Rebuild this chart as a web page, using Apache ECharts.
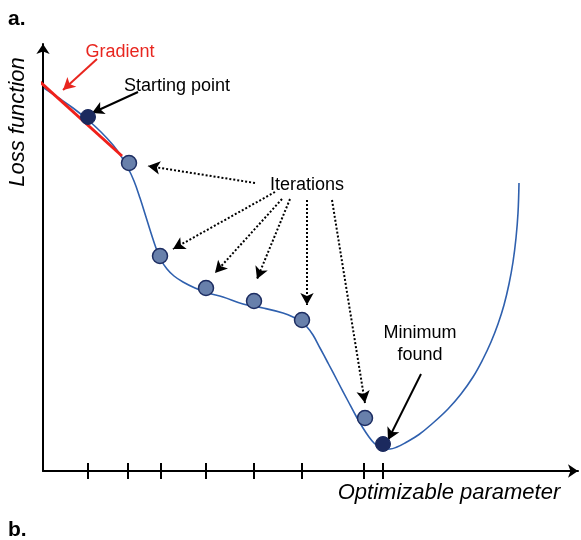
<!DOCTYPE html>
<html>
<head>
<meta charset="utf-8">
<script src="https://cdn.jsdelivr.net/npm/echarts@6/dist/echarts.min.js"></script>
<style>
html,body{margin:0;padding:0;background:#fff;}
#chart{width:581px;height:540px;}
</style>
</head>
<body>
<div id="chart"></div>
<script>
// Loss curve samples [parameter, loss]
var curveX = [1, 15, 30, 45, 58, 70, 78, 85, 91, 97, 103, 108, 113, 118, 124, 131, 140, 152, 165, 180, 200, 220, 240, 250, 258, 264, 270, 277, 285, 295, 305, 313, 320, 326, 331, 336, 341, 347, 354, 362, 376, 390, 405, 418, 430, 440, 448, 455, 461, 466, 470, 473, 475, 476];
var curveY = [383, 373.5, 363, 351, 339, 326, 315, 303, 290, 273, 254, 238, 223, 211, 202, 195, 189, 183, 178, 174, 167, 163, 158, 154, 149, 144, 136, 123, 108, 89, 70, 55, 43, 34, 28, 24, 22, 22, 24, 28, 36.5, 48, 62, 77, 94, 112, 129, 147, 166, 187, 209, 233, 258, 288];
// Iteration points
var iterX = [86, 117, 163, 211, 259, 322];
var iterY = [308, 215, 183, 170, 151, 53];
var startPt = [45, 354];
var minPt = [340, 27];
// Tick positions on the parameter axis
var tickX = [45, 85, 118, 163, 211, 259, 321, 340];
// Gradient tangent segment
var gradX = [-5, 79];
var gradY = [391, 315];
// Annotation texts [x, y, text, color]
var notes = [
  [77, 419, 'Gradient', '#e8261f'],
  [134, 385, 'Starting point', '#000'],
  [264, 286, 'Iterations', '#000'],
  [377, 127, 'Minimum\nfound', '#000']
];
// Solid arrows [x1,y1,x2,y2,color]
var solidArrows = [
  [54, 412, 20, 381, '#e8261f'],
  [95, 379, 49, 358, '#000'],
  [378, 97, 345, 31, '#000']
];
// Dotted arrows from "Iterations"
var dotArrows = [
  [212, 288, 105, 305],
  [232, 279, 130, 222],
  [239, 272, 172, 198],
  [247, 272, 214, 192],
  [264, 271, 264, 166],
  [289, 271, 322, 68]
];

var chart = echarts.init(document.getElementById('chart'));
var axisLine = {show: true, symbol: ['none', 'arrow'], symbolSize: [10, 10], lineStyle: {color: '#000', width: 2}};

var markData = [];
solidArrows.forEach(function (a) {
  markData.push([{coord: [a[0], a[1]], lineStyle: {color: a[4], width: 2, type: 'solid'}}, {coord: [a[2], a[3]]}]);
});
dotArrows.forEach(function (a) {
  markData.push([{coord: [a[0], a[1]], lineStyle: {color: '#000', width: 2, type: 'dotted'}}, {coord: [a[2], a[3]]}]);
});

var option = {
  animation: false,
  grid: {left: 43, right: 3, top: 44, bottom: 69},
  xAxis: {type: 'value', min: 0, max: 535, axisLine: axisLine, axisTick: {show: false}, axisLabel: {show: false}, splitLine: {show: false}},
  yAxis: {type: 'value', min: 0, max: 427, axisLine: axisLine, axisTick: {show: false}, axisLabel: {show: false}, splitLine: {show: false}},
  graphic: [
    {type: 'text', x: 8, y: 19, style: {text: 'a.', font: 'bold 21px "Liberation Sans", sans-serif', fill: '#000', verticalAlign: 'middle'}},
    {type: 'text', x: 8, y: 530, style: {text: 'b.', font: 'bold 21px "Liberation Sans", sans-serif', fill: '#000', verticalAlign: 'middle'}},
    {type: 'text', x: 18, y: 122, rotation: Math.PI / 2, style: {text: 'Loss function', font: 'italic 22px "Liberation Sans", sans-serif', fill: '#000', align: 'center', verticalAlign: 'middle'}},
    {type: 'text', x: 449, y: 493, style: {text: 'Optimizable parameter', font: 'italic 22px "Liberation Sans", sans-serif', fill: '#000', align: 'center', verticalAlign: 'middle'}}
  ],
  series: [
    {
      type: 'line', name: 'loss', smooth: 0.4, symbol: 'none',
      data: curveX.map(function (x, i) { return [x, curveY[i]]; }),
      lineStyle: {color: '#2f60ae', width: 1.6}, z: 2
    },
    {
      type: 'line', name: 'gradient', symbol: 'none', clip: false,
      data: gradX.map(function (x, i) { return [x, gradY[i]]; }),
      lineStyle: {color: '#f0201a', width: 3}, z: 3
    },
    {
      type: 'scatter', name: 'ticks', clip: false, symbol: 'rect', symbolSize: [2, 16],
      data: tickX.map(function (x) { return [x, 0]; }),
      itemStyle: {color: '#000', opacity: 1}, z: 5, silent: true
    },
    {
      type: 'scatter', name: 'iterations', symbol: 'circle', symbolSize: 15,
      data: iterX.map(function (x, i) { return [x, iterY[i]]; }),
      itemStyle: {color: '#6880ab', borderColor: '#1d2d62', borderWidth: 1.5, opacity: 1}, z: 6
    },
    {
      type: 'scatter', name: 'ends', symbol: 'circle', symbolSize: 15,
      data: [startPt, minPt],
      itemStyle: {color: '#1b2a5e', borderColor: '#1b2a5e', borderWidth: 1, opacity: 1}, z: 6
    },
    {
      type: 'scatter', name: 'notes', symbolSize: 0, clip: false,
      itemStyle: {opacity: 1},
      data: notes.map(function (n) {
        return {value: [n[0], n[1]], label: {show: true, position: 'inside', formatter: n[2], color: n[3], fontSize: 18, lineHeight: 22, fontFamily: '"Liberation Sans", Arial, sans-serif'}};
      }),
      z: 7, silent: true
    },
    {
      type: 'line', name: 'arrows', data: [], symbol: 'none',
      markLine: {
        silent: true, symbol: ['none', 'arrow'], symbolSize: [10, 12],
        label: {show: false}, animation: false,
        data: markData
      }, z: 4
    }
  ]
};
chart.setOption(option);
</script>
</body>
</html>
